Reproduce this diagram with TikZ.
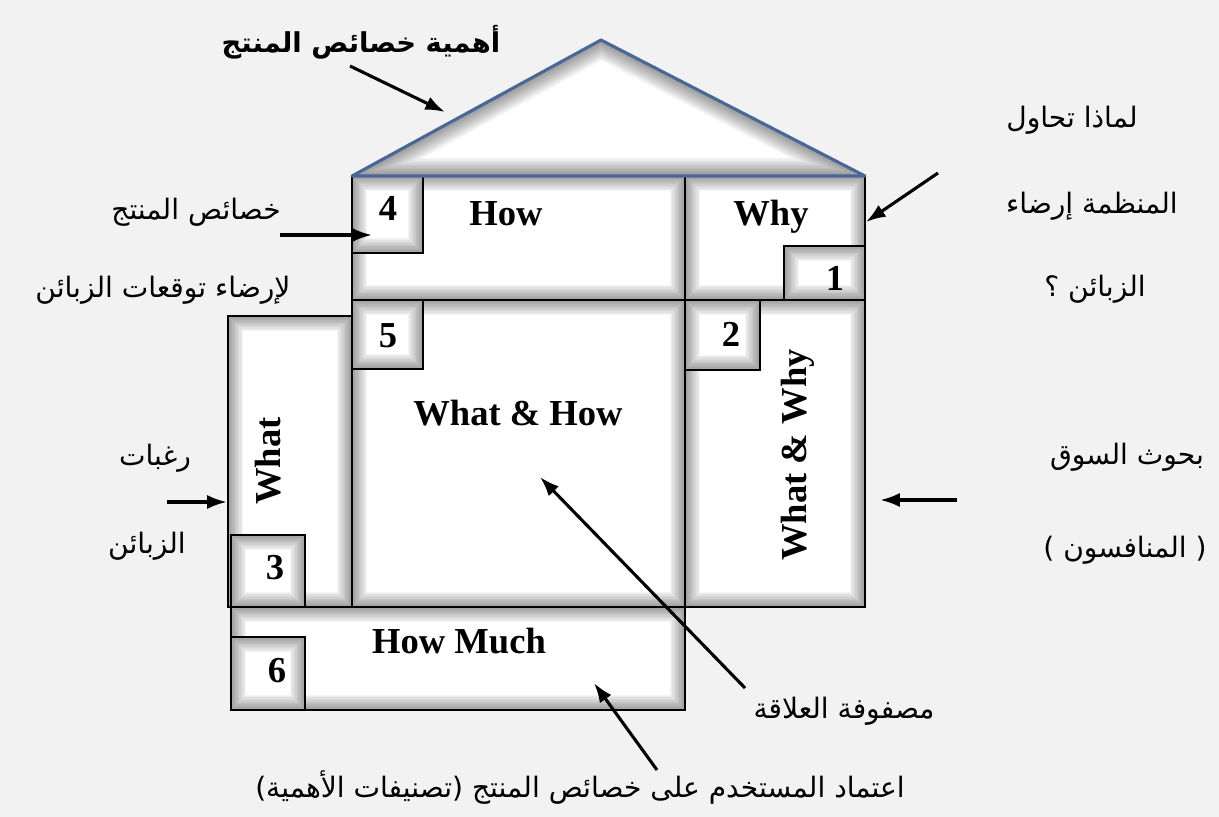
\documentclass[tikz,border=0pt]{standalone}
\usepackage{fontspec}
\setmainfont{Liberation Serif}
\newfontfamily\arabicfont[Script=Arabic]{DejaVu Sans}
\TeXXeTstate=1
\usetikzlibrary{arrows.meta, positioning, calc, fit}

\definecolor{bggray}{HTML}{F2F2F2}
\definecolor{roofblue}{HTML}{4A6896}

\begin{document}
\begin{tikzpicture}[x=0.025cm, y=-0.025cm,
    panel/.style={draw=black, line width=1.6pt, fill=white, inner sep=0pt,
        path picture={
            \foreach \w in {2,4,...,22}
                \draw[black, opacity=0.04, line width=\w pt]
                    (path picture bounding box.south west) rectangle (path picture bounding box.north east);
        }},
    title/.style={font=\bfseries\fontsize{26}{30}\selectfont, text height=17pt, text depth=0pt, inner sep=0pt},
    note/.style={font=\arabicfont\fontsize{20}{24}\selectfont, inner sep=0pt},
    arr/.style={-{Latex[length=14pt,width=10pt]}, line width=2.2pt}
]

% Fond
\fill[bggray] (0,0) rectangle (1219,817);
\useasboundingbox (0,0) rectangle (1219,817);

% Cases de la maison
\node[panel, fit={(352,176) (685,300)}] (how) {};
\node[panel, fit={(685,176) (865,300)}] (why) {};
\node[panel, fit={(228,316) (352,607)}] (what) {};
\node[panel, fit={(352,300) (685,607)}] (whathow) {};
\node[panel, fit={(685,300) (865,607)}] (whatwhy) {};
\node[panel, fit={(231,607) (685,710)}] (howmuch) {};

% Petites cases numerotees
\node[panel, fit={(352,176) (423,253)}] (box4) {};
\node[panel, fit={(784,246) (865,300)}] (box1) {};
\node[panel, fit={(352,300) (423,369)}] (box5) {};
\node[panel, fit={(685,300) (760,370)}] (box2) {};
\node[panel, fit={(231,535) (305,607)}] (box3) {};
\node[panel, fit={(231,637) (305,710)}] (box6) {};

% Toit
\coordinate (eaveL) at (352,176);
\coordinate (apex) at (601,40);
\coordinate (eaveR) at (865,176);
\fill[white] (eaveL) -- (apex) -- (eaveR) -- cycle;
\begin{scope}
    \clip (eaveL) -- (apex) -- (eaveR) -- cycle;
    \foreach \w in {2,4,...,26}
        \draw[black, opacity=0.035, line width=\w pt] (eaveL) -- (apex) -- (eaveR) -- cycle;
\end{scope}
\draw[roofblue, line width=2.2pt, line join=round] (eaveL) -- (apex) -- (eaveR) -- cycle;

% Textes des cases
\node[title] (lhow) at (506,214) {How};
\node[title] (lwhy) at (771,214) {Why};
\node[title] (lwhathow) at (518,414) {What \& How};
\node[title, rotate=90] (lwhatwhy) at (795,455) {What \& Why};
\node[title, rotate=90] (lwhat) at (269,461) {What};
\node[title] (lhowmuch) at (459,642) {How Much};

\node[title] (n4) at (388,209) {4};
\node[title] (n1) at (835,279) {1};
\node[title] (n5) at (388,336) {5};
\node[title] (n2) at (731,335) {2};
\node[title] (n3) at (275,568) {3};
\node[title] (n6) at (277,671) {6};

% Textes en arabe
\node[note, font=\arabicfont\bfseries\fontsize{19.5}{22}\selectfont] (tRoof) at (361,42) {\beginR أهمية خصائص المنتج\endR};
\node[note] (tFeat1) at (196,212) {\beginR خصائص المنتج\endR};
\node[note] (tFeat2) at (163,290) {\beginR لإرضاء توقعات الزبائن\endR};
\node[note] (tWhy1) at (1072,120) {\beginR لماذا تحاول\endR};
\node[note] (tWhy2) at (1092,206) {\beginR المنظمة إرضاء\endR};
\node[note] (tWhy3) at (1095,289) {\beginR الزبائن ؟\endR};
\node[note] (tWant1) at (155,458) {\beginR رغبات\endR};
\node[note] (tWant2) at (147,546) {\beginR الزبائن\endR};
\node[note] (tMkt1) at (1127,457) {\beginR بحوث السوق\endR};
\node[note] (tMkt2) at (1125,550) {\beginR ( المنافسون )\endR};
\node[note] (tRel) at (844,711) {\beginR مصفوفة العلاقة\endR};
\node[note] (tRank) at (580,787) {\beginR اعتماد المستخدم على خصائص المنتج (تصنيفات الأهمية)\endR};

% Fleches
\coordinate (aRoof) at (350,66);
\coordinate (hRoof) at (445,112);
\coordinate (aFeat) at (280,235);
\coordinate (hFeat) at (372,235);
\coordinate (aWhy) at (938,173);
\coordinate (hWhy) at (866,222);
\coordinate (aWant) at (167,502);
\coordinate (aMkt) at (957,500);
\coordinate (aRel) at (745,688);
\coordinate (hRel) at (540,477);
\coordinate (aRank) at (657,770);
\coordinate (hRank) at (594,683);

\draw[arr] (aRoof) -- (hRoof);
\draw[arr] (aFeat) -- (hFeat);
\draw[arr] (aWhy) -- (hWhy);
\draw[arr] (aWant) -- (aWant -| what.west);
\draw[arr] (aMkt) -- ($(aMkt -| whatwhy.east)+(14,0)$);
\draw[arr] (aRel) -- (hRel);
\draw[arr] (aRank) -- (hRank);

\end{tikzpicture}
\end{document}
